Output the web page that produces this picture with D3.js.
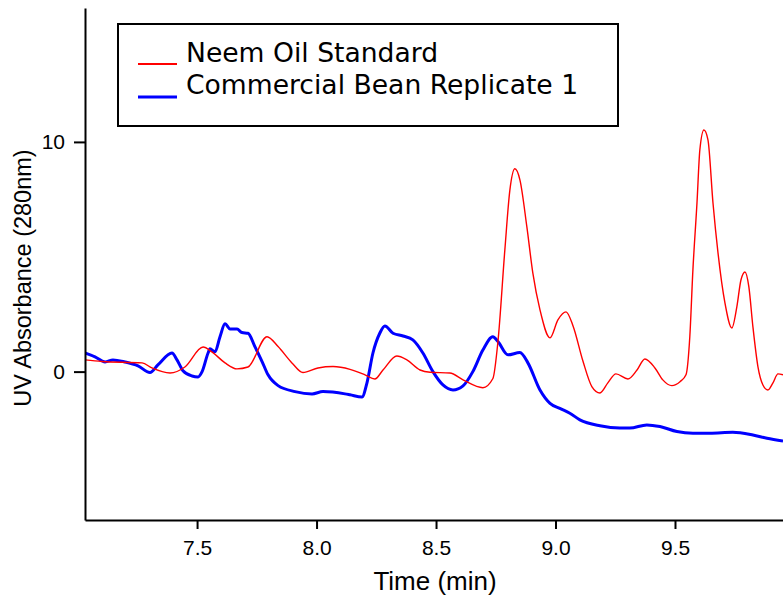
<!DOCTYPE html>
<html>
<head>
<meta charset="utf-8">
<script src="https://cdn.jsdelivr.net/npm/d3@7"></script>
<style>
  html, body { margin: 0; padding: 0; background: #fff; }
  svg { display: block; }
</style>
</head>
<body>
<svg id="chart" width="783" height="597"></svg>
<script>
// Chromatogram traces: retention time (min) and UV absorbance at 280 nm
const neemTime = [7.031, 7.102, 7.270, 7.311, 7.387, 7.449, 7.525, 7.562, 7.617, 7.667, 7.713, 7.793, 7.839, 7.897, 7.943, 8.006, 8.069, 8.140, 8.203, 8.244, 8.278, 8.336, 8.378, 8.433, 8.475, 8.558, 8.613, 8.696, 8.738, 8.759, 8.788, 8.809, 8.830, 8.851, 8.880, 8.905, 8.935, 8.977, 9.010, 9.044, 9.073, 9.115, 9.152, 9.186, 9.219, 9.253, 9.303, 9.341, 9.374, 9.416, 9.449, 9.487, 9.521, 9.546, 9.562, 9.575, 9.592, 9.604, 9.621, 9.638, 9.659, 9.680, 9.709, 9.738, 9.759, 9.776, 9.793, 9.809, 9.826, 9.847, 9.868, 9.889, 9.910, 9.931, 9.952];
const neemAbs = [0.51, 0.44, 0.38, 0.16, -0.06, 0.2, 1.07, 0.86, 0.38, 0.12, 0.2, 1.52, 1.09, 0.38, -0.04, 0.16, 0.22, 0.1, -0.14, -0.32, 0.07, 0.68, 0.51, 0.07, -0.03, -0.06, -0.36, -0.7, -0.3, 1.3, 5.3, 7.9, 8.83, 8.35, 6.31, 4.3, 2.69, 1.47, 2.25, 2.6, 2.0, 0.45, -0.65, -0.93, -0.49, -0.1, -0.32, 0.07, 0.55, 0.16, -0.36, -0.61, -0.44, -0.14, 1.52, 4.43, 7.34, 9.65, 10.52, 10.09, 7.34, 5.17, 2.99, 1.9, 2.83, 3.99, 4.34, 3.7, 1.96, 0.22, -0.58, -0.8, -0.49, -0.1, -0.14];

const beanTime = [7.031, 7.073, 7.115, 7.148, 7.198, 7.253, 7.303, 7.336, 7.395, 7.416, 7.441, 7.479, 7.504, 7.521, 7.546, 7.554, 7.575, 7.596, 7.617, 7.638, 7.667, 7.688, 7.713, 7.742, 7.772, 7.797, 7.839, 7.910, 7.981, 8.027, 8.119, 8.140, 8.190, 8.211, 8.236, 8.265, 8.286, 8.320, 8.362, 8.403, 8.445, 8.487, 8.529, 8.571, 8.613, 8.654, 8.696, 8.738, 8.759, 8.801, 8.851, 8.885, 8.935, 8.977, 9.018, 9.060, 9.102, 9.186, 9.269, 9.311, 9.382, 9.437, 9.508, 9.575, 9.646, 9.742, 9.826, 9.885, 9.952];
const beanAbs = [0.81, 0.64, 0.42, 0.51, 0.42, 0.25, -0.04, 0.29, 0.81, 0.51, 0.04, -0.19, -0.23, 0.0, 0.81, 0.99, 0.86, 1.52, 2.08, 1.86, 1.85, 1.7, 1.67, 1.09, 0.44, -0.14, -0.61, -0.87, -0.97, -0.87, -0.97, -1.01, -1.11, -0.49, 0.81, 1.68, 1.99, 1.67, 1.55, 1.38, 0.81, 0.0, -0.58, -0.8, -0.62, 0.0, 0.94, 1.52, 1.31, 0.73, 0.83, 0.37, -0.8, -1.38, -1.6, -1.81, -2.1, -2.36, -2.46, -2.46, -2.32, -2.39, -2.61, -2.68, -2.68, -2.64, -2.76, -2.9, -3.02];

const seriesNames = ["Neem Oil Standard", "Commercial Bean Replicate 1"];
const xTicks = [7.5, 8.0, 8.5, 9.0, 9.5];
const yTicks = [0, 10];

const svg = d3.select("#chart");
const plot = { left: 85, right: 783, top: 8, bottom: 520 };
const sans = "'Liberation Sans', Arial, sans-serif";

const x = d3.scaleLinear().domain([7.031, 9.952]).range([plot.left, plot.right]);
const y = d3.scaleLinear().domain([-6.46, 15.83]).range([plot.bottom, plot.top]);

svg.append("defs").append("clipPath").attr("id", "plot-area")
  .append("rect").attr("x", plot.left).attr("y", plot.top)
  .attr("width", plot.right - plot.left).attr("height", plot.bottom - plot.top);

const line = d3.line().x(d => x(d[0])).y(d => y(d[1])).curve(d3.curveMonotoneX);
const neem = d3.zip(neemTime, neemAbs);
const bean = d3.zip(beanTime, beanAbs);

const traces = svg.append("g").attr("clip-path", "url(#plot-area)");
traces.append("path").datum(bean).attr("d", line)
  .attr("fill", "none").attr("stroke", "#0000ff").attr("stroke-width", 3)
  .attr("stroke-linejoin", "round");
traces.append("path").datum(neem).attr("d", line)
  .attr("fill", "none").attr("stroke", "#ff0000").attr("stroke-width", 1.4)
  .attr("stroke-linejoin", "round");

// Axes
const xAxis = svg.append("g").attr("transform", `translate(0,${plot.bottom})`)
  .call(d3.axisBottom(x).tickValues(xTicks).tickFormat(d3.format(".1f"))
    .tickSize(9).tickSizeOuter(0).tickPadding(11));
const yAxis = svg.append("g").attr("transform", `translate(${plot.left},0)`)
  .call(d3.axisLeft(y).tickValues(yTicks).tickFormat(d3.format("d"))
    .tickSize(11).tickSizeOuter(0).tickPadding(9));

[xAxis, yAxis].forEach(g => {
  g.selectAll("path.domain").attr("stroke", "#000").attr("stroke-width", 2);
  g.selectAll(".tick line").attr("stroke", "#000").attr("stroke-width", 2);
  g.selectAll(".tick text").attr("fill", "#000")
    .style("font-family", sans).style("font-size", "21px");
});

svg.append("text").attr("x", 435).attr("y", 590)
  .attr("text-anchor", "middle")
  .style("font-family", sans).style("font-size", "26px")
  .text("Time (min)");

svg.append("text").attr("transform", "translate(31,278) rotate(-90)")
  .attr("text-anchor", "middle")
  .style("font-family", sans).style("font-size", "23.5px")
  .text("UV Absorbance (280nm)");

// Legend
const legend = svg.append("g");
legend.append("rect").attr("x", 118).attr("y", 24).attr("width", 500).attr("height", 102)
  .attr("fill", "#fff").attr("stroke", "#000").attr("stroke-width", 2);
const colors = ["#ff0000", "#0000ff"];
const widths = [2.2, 3];
seriesNames.forEach((name, i) => {
  const yy = 64 + i * 33;
  legend.append("line").attr("x1", 138).attr("x2", 177).attr("y1", yy).attr("y2", yy)
    .attr("stroke", colors[i]).attr("stroke-width", widths[i]);
  legend.append("text").attr("x", 186).attr("y", 61.5 + i * 32)
    .style("font-family", "'DejaVu Sans', Verdana, sans-serif").style("font-size", "26.6px")
    .attr("fill", "#000").text(name);
});
</script>
</body>
</html>
